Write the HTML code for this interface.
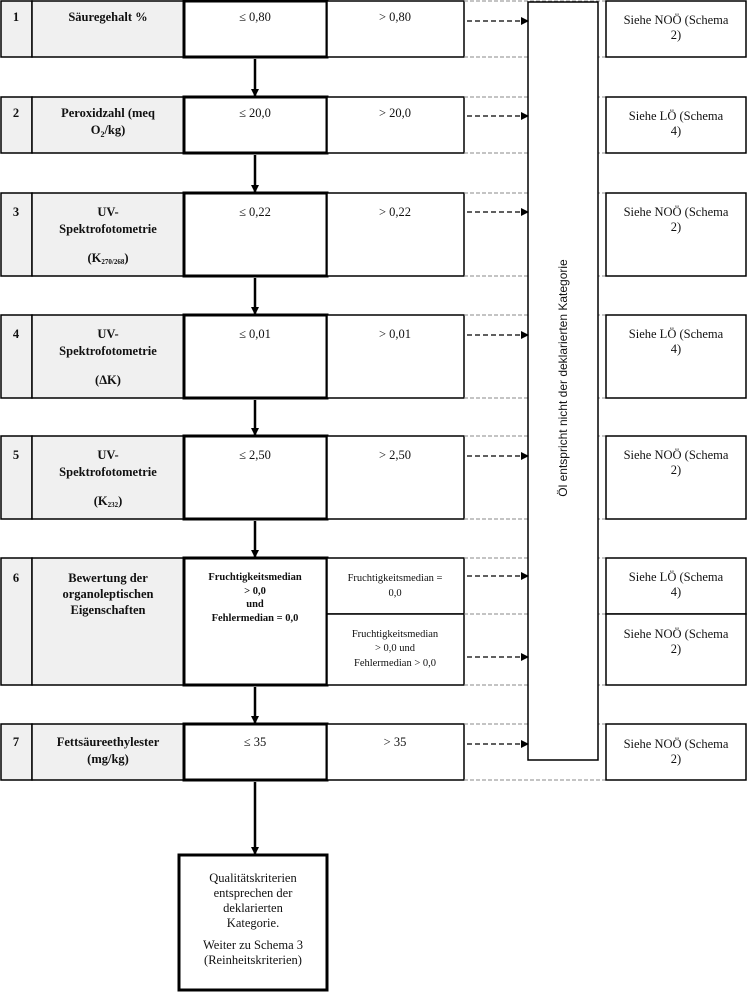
<!DOCTYPE html>
<html><head><meta charset="utf-8"><style>
html,body{margin:0;padding:0;background:#fff}
svg{display:block}
text{font-family:"Liberation Serif",serif;font-size:12.5px;fill:#111}
.b{font-weight:bold}
</style></head><body>
<svg width="747" height="992" viewBox="0 0 747 992" xmlns="http://www.w3.org/2000/svg">
<defs><marker id="ah" markerWidth="8" markerHeight="8" refX="7" refY="4" orient="auto" markerUnits="userSpaceOnUse"><path d="M0,0 L8,4 L0,8 z" fill="#000"/></marker></defs>
<g stroke="#000" fill="none">
<g>
<rect x="1" y="1" width="31" height="56" fill="#f0f0f0" stroke-width="1.5"/><rect x="32" y="1" width="152" height="56" fill="#f0f0f0" stroke-width="1.5"/><rect x="184" y="1" width="143" height="56" fill="#fff" stroke-width="3"/><rect x="327" y="1" width="137" height="56" fill="#fff" stroke-width="1.5"/>
<rect x="1" y="97" width="31" height="56" fill="#f0f0f0" stroke-width="1.5"/><rect x="32" y="97" width="152" height="56" fill="#f0f0f0" stroke-width="1.5"/><rect x="184" y="97" width="143" height="56" fill="#fff" stroke-width="3"/><rect x="327" y="97" width="137" height="56" fill="#fff" stroke-width="1.5"/>
<rect x="1" y="193" width="31" height="83" fill="#f0f0f0" stroke-width="1.5"/><rect x="32" y="193" width="152" height="83" fill="#f0f0f0" stroke-width="1.5"/><rect x="184" y="193" width="143" height="83" fill="#fff" stroke-width="3"/><rect x="327" y="193" width="137" height="83" fill="#fff" stroke-width="1.5"/>
<rect x="1" y="315" width="31" height="83" fill="#f0f0f0" stroke-width="1.5"/><rect x="32" y="315" width="152" height="83" fill="#f0f0f0" stroke-width="1.5"/><rect x="184" y="315" width="143" height="83" fill="#fff" stroke-width="3"/><rect x="327" y="315" width="137" height="83" fill="#fff" stroke-width="1.5"/>
<rect x="1" y="436" width="31" height="83" fill="#f0f0f0" stroke-width="1.5"/><rect x="32" y="436" width="152" height="83" fill="#f0f0f0" stroke-width="1.5"/><rect x="184" y="436" width="143" height="83" fill="#fff" stroke-width="3"/><rect x="327" y="436" width="137" height="83" fill="#fff" stroke-width="1.5"/>
<rect x="1" y="558" width="31" height="127" fill="#f0f0f0" stroke-width="1.5"/><rect x="32" y="558" width="152" height="127" fill="#f0f0f0" stroke-width="1.5"/><rect x="184" y="558" width="143" height="127" fill="#fff" stroke-width="3"/><rect x="327" y="558" width="137" height="56" fill="#fff" stroke-width="1.5"/><rect x="327" y="614" width="137" height="71" fill="#fff" stroke-width="1.5"/>
<rect x="1" y="724" width="31" height="56" fill="#f0f0f0" stroke-width="1.5"/><rect x="32" y="724" width="152" height="56" fill="#f0f0f0" stroke-width="1.5"/><rect x="184" y="724" width="143" height="56" fill="#fff" stroke-width="3"/><rect x="327" y="724" width="137" height="56" fill="#fff" stroke-width="1.5"/>
</g>
<g stroke="#888" stroke-dasharray="4,2" stroke-width="1">
<path d="M464 1H606M464 57H606M464 97H606M464 153H606M464 193H606M464 276H606M464 315H606M464 398H606M464 436H606M464 519H606M464 558H606M464 614H606M464 685H606M464 724H606M464 780H606"/>
</g>
<rect x="528" y="2" width="70" height="758" fill="#fff" stroke-width="1.5"/>
<g fill="#fff" stroke-width="1.5">
<rect x="606" y="1" width="140" height="56"/><rect x="606" y="97" width="140" height="56"/><rect x="606" y="193" width="140" height="83"/><rect x="606" y="315" width="140" height="83"/><rect x="606" y="436" width="140" height="83"/><rect x="606" y="558" width="140" height="56"/><rect x="606" y="614" width="140" height="71"/><rect x="606" y="724" width="140" height="56"/>
</g>
<g stroke-dasharray="5,3" stroke-width="1.3">
<path d="M467 21H528" marker-end="url(#ah)"/><path d="M467 116H528" marker-end="url(#ah)"/><path d="M467 212H528" marker-end="url(#ah)"/><path d="M467 335H528" marker-end="url(#ah)"/><path d="M467 456H528" marker-end="url(#ah)"/><path d="M467 576H528" marker-end="url(#ah)"/><path d="M467 657H528" marker-end="url(#ah)"/><path d="M467 744H528" marker-end="url(#ah)"/>
</g>
<g stroke-width="2.5">
<path d="M255 59V96" marker-end="url(#ah)"/><path d="M255 155V192" marker-end="url(#ah)"/><path d="M255 278V314" marker-end="url(#ah)"/><path d="M255 400V435" marker-end="url(#ah)"/><path d="M255 521V557" marker-end="url(#ah)"/><path d="M255 687V723" marker-end="url(#ah)"/><path d="M255 782V854" marker-end="url(#ah)"/>
</g>
<rect x="179" y="855" width="148" height="135" fill="#fff" stroke-width="3"/>
</g>
<g text-anchor="middle">
<text x="16" y="21" class="b">1</text><text x="108" y="21" class="b">Säuregehalt %</text><text x="255" y="21">≤ 0,80</text><text x="395" y="21">&gt; 0,80</text>
<text x="16" y="117" class="b">2</text><text x="108" y="117" class="b">Peroxidzahl (meq</text><text x="108" y="134" class="b">O<tspan font-size="8" dy="3">2</tspan><tspan dy="-3">/kg)</tspan></text><text x="255" y="117">≤ 20,0</text><text x="395" y="117">&gt; 20,0</text>
<text x="16" y="216" class="b">3</text><text x="108" y="216" class="b">UV-</text><text x="108" y="233" class="b">Spektrofotometrie</text><text x="108" y="262" class="b">(K<tspan font-size="7" dy="2">270/268</tspan><tspan dy="-2">)</tspan></text><text x="255" y="216">≤ 0,22</text><text x="395" y="216">&gt; 0,22</text>
<text x="16" y="338" class="b">4</text><text x="108" y="338" class="b">UV-</text><text x="108" y="355" class="b">Spektrofotometrie</text><text x="108" y="384" class="b">(ΔK)</text><text x="255" y="338">≤ 0,01</text><text x="395" y="338">&gt; 0,01</text>
<text x="16" y="459" class="b">5</text><text x="108" y="459" class="b">UV-</text><text x="108" y="476" class="b">Spektrofotometrie</text><text x="108" y="505" class="b">(K<tspan font-size="7" dy="2">232</tspan><tspan dy="-2">)</tspan></text><text x="255" y="459">≤ 2,50</text><text x="395" y="459">&gt; 2,50</text>
<text x="16" y="582" class="b">6</text><text x="108" y="582" class="b">Bewertung der</text><text x="108" y="598" class="b">organoleptischen</text><text x="108" y="614" class="b">Eigenschaften</text>
<text x="255" y="580" class="b" style="font-size:10.5px">Fruchtigkeitsmedian</text><text x="255" y="594" class="b" style="font-size:10.5px">&gt; 0,0</text><text x="255" y="607" class="b" style="font-size:10.5px">und</text><text x="255" y="621" class="b" style="font-size:10.5px">Fehlermedian = 0,0</text>
<text x="395" y="581" style="font-size:10.5px">Fruchtigkeitsmedian =</text><text x="395" y="596" style="font-size:10.5px">0,0</text>
<text x="395" y="637" style="font-size:10.5px">Fruchtigkeitsmedian</text><text x="395" y="651" style="font-size:10.5px">&gt; 0,0 und</text><text x="395" y="666" style="font-size:10.5px">Fehlermedian &gt; 0,0</text>
<text x="16" y="746" class="b">7</text><text x="108" y="746" class="b">Fettsäureethylester</text><text x="108" y="763" class="b">(mg/kg)</text><text x="255" y="746">≤ 35</text><text x="395" y="746">&gt; 35</text>
<text x="676" y="24">Siehe NOÖ (Schema</text><text x="676" y="39">2)</text>
<text x="676" y="120">Siehe LÖ (Schema</text><text x="676" y="135">4)</text>
<text x="676" y="216">Siehe NOÖ (Schema</text><text x="676" y="231">2)</text>
<text x="676" y="338">Siehe LÖ (Schema</text><text x="676" y="353">4)</text>
<text x="676" y="459">Siehe NOÖ (Schema</text><text x="676" y="474">2)</text>
<text x="676" y="581">Siehe LÖ (Schema</text><text x="676" y="596">4)</text>
<text x="676" y="638">Siehe NOÖ (Schema</text><text x="676" y="653">2)</text>
<text x="676" y="748">Siehe NOÖ (Schema</text><text x="676" y="763">2)</text>
<text x="253" y="882">Qualitätskriterien</text><text x="253" y="897">entsprechen der</text><text x="253" y="912">deklarierten</text><text x="253" y="927">Kategorie.</text>
<text x="253" y="949">Weiter zu Schema 3</text><text x="253" y="964">(Reinheitskriterien)</text>
<text x="0" y="0" transform="translate(567,378) rotate(-90)" style="font-family:'Liberation Sans',sans-serif;font-size:12px">Öl entspricht nicht der deklarierten Kategorie</text>
</g>
</svg>
</body></html>
